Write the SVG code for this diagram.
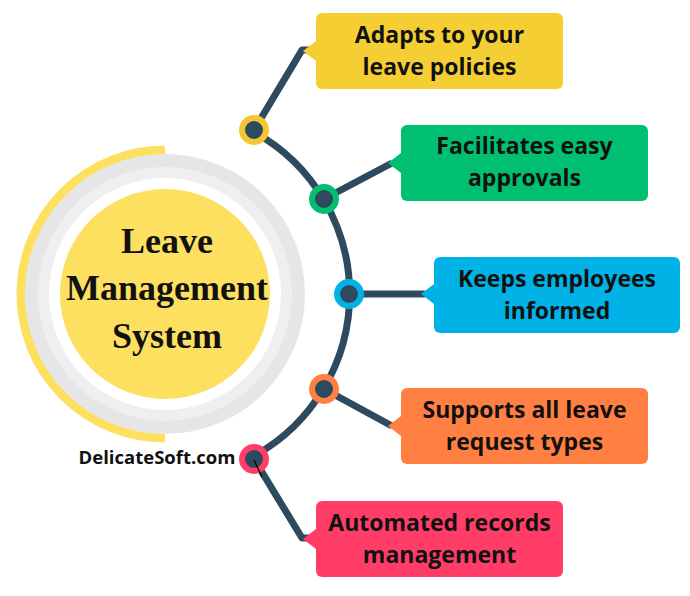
<svg xmlns="http://www.w3.org/2000/svg" width="690" height="596" viewBox="0 0 690 596">
<style>
.lbl{font-family:"Open Sans","Liberation Sans",sans-serif;font-weight:700;font-size:23px;fill:#111;text-anchor:middle}
.title{font-family:"Liberation Serif","DejaVu Serif",serif;font-weight:700;font-size:36px;fill:#111;text-anchor:middle}
.conn{fill:none;stroke:#2e4a5f;stroke-width:7;stroke-linejoin:round}
</style>
<rect width="690" height="596" fill="#fff"/>
<g id="hub">
<path d="M165 150 A144 144 0 0 0 165 438" fill="none" stroke="#fde060" stroke-width="9"/>
<circle cx="165" cy="294" r="140" fill="#e6e6e8"/>
<circle cx="165" cy="294" r="127" fill="#efeff1"/>
<circle cx="165" cy="294" r="116" fill="#ffffff"/>
<circle cx="165" cy="294" r="105" fill="#fde060"/>
<text class="title" x="167" y="253">Leave</text>
<text class="title" x="167" y="300">Management</text>
<text class="title" x="167" y="348">System</text>
</g>
<g id="connectors">
<path class="conn" d="M254 132 A185 185 0 0 1 254 456"/>
<polyline class="conn" points="254,130 302,50 310,50"/>
<line class="conn" x1="324" y1="199" x2="392" y2="163"/>
<line class="conn" x1="349" y1="294" x2="425" y2="294"/>
<line class="conn" x1="324" y1="389" x2="392" y2="426"/>
<polyline class="conn" points="254,459 302,538 310,538"/>
</g>
<g id="n1">
<rect x="316" y="13" width="247" height="76" rx="6" fill="#f5ce33"/>
<polygon points="316,41 303,51 316,61" fill="#f5ce33"/>
<text class="lbl" x="439.5" y="43">Adapts to your</text>
<text class="lbl" x="439.5" y="75">leave policies</text>
<circle cx="254" cy="130" r="12" fill="#2e4a5f" stroke="#f4c730" stroke-width="6"/>
</g>
<g id="n2">
<rect x="401" y="125" width="247" height="76" rx="6" fill="#00bf70"/>
<polygon points="401,153 388,163 401,173" fill="#00bf70"/>
<text class="lbl" x="524.5" y="154">Facilitates easy</text>
<text class="lbl" x="524.5" y="186">approvals</text>
<circle cx="324" cy="199" r="12" fill="#2e4a5f" stroke="#00bf70" stroke-width="6"/>
</g>
<g id="n3">
<rect x="434" y="257" width="246" height="76" rx="6" fill="#00b2e6"/>
<polygon points="434,284 421,294 434,304" fill="#00b2e6"/>
<text class="lbl" x="557" y="287">Keeps employees</text>
<text class="lbl" x="557" y="319">informed</text>
<circle cx="349" cy="294" r="12" fill="#2e4a5f" stroke="#00b2e6" stroke-width="6"/>
</g>
<g id="n4">
<rect x="401" y="388" width="247" height="76" rx="6" fill="#ff8042"/>
<polygon points="401,416 388,426 401,436" fill="#ff8042"/>
<text class="lbl" x="524.5" y="418">Supports all leave</text>
<text class="lbl" x="524.5" y="450">request types</text>
<circle cx="324" cy="389" r="12" fill="#2e4a5f" stroke="#ff8042" stroke-width="6"/>
</g>
<g id="n5">
<rect x="316" y="501" width="247" height="76" rx="6" fill="#ff3d66"/>
<polygon points="316,529 303,539 316,549" fill="#ff3d66"/>
<text class="lbl" x="439.5" y="531">Automated records</text>
<text class="lbl" x="439.5" y="563">management</text>
<circle cx="254" cy="459" r="12" fill="#2e4a5f" stroke="#ff3d66" stroke-width="6"/>
<line x1="254" y1="460" x2="262" y2="477" stroke="#000" stroke-width="1.2"/>
</g>
<text x="157" y="464" style="font-family:'Open Sans','Liberation Sans',sans-serif;font-weight:700;font-size:18.5px;fill:#111;text-anchor:middle">DelicateSoft.com</text>
</svg>
